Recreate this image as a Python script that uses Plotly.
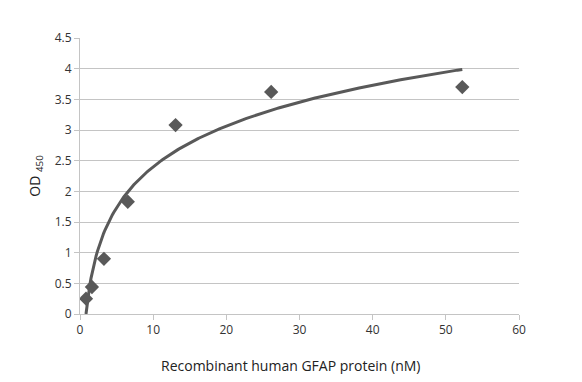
import numpy as np
import plotly.graph_objects as go

# Data
conc_nM = [0.82, 1.63, 3.27, 6.53, 13.06, 26.13, 52.25]
od450 = [0.25, 0.44, 0.90, 1.83, 3.08, 3.62, 3.70]

# Logarithmic trendline parameters: y = a*ln(x) + b
trend_a = 0.960
trend_b = 0.19

x_ticks = [0, 10, 20, 30, 40, 50, 60]
y_ticks = [0, 0.5, 1, 1.5, 2, 2.5, 3, 3.5, 4, 4.5]
y_tick_text = ["0", "0.5", "1", "1.5", "2", "2.5", "3", "3.5", "4", "4.5"]

trend_x = np.linspace(min(conc_nM), max(conc_nM), 300)
trend_y = trend_a * np.log(trend_x) + trend_b

font_family = "Open Sans, DejaVu Sans, sans-serif"
grid_col = "#c4c4c4"
mark_col = "#595959"

fig = go.Figure()
fig.add_trace(go.Scatter(x=trend_x, y=trend_y, mode="lines",
                         line=dict(color=mark_col, width=3), hoverinfo="skip",
                         showlegend=False))
fig.add_trace(go.Scatter(x=conc_nM, y=od450, mode="markers",
                         marker=dict(symbol="diamond", size=11, color=mark_col),
                         showlegend=False))

fig.update_layout(
    width=566, height=366,
    margin=dict(l=72, r=55, t=30, b=60),
    paper_bgcolor="white", plot_bgcolor="white",
    font=dict(family=font_family, size=12, color="#333333"),
    xaxis=dict(range=[0, 60], tickvals=x_ticks, showgrid=False, zeroline=False,
               showline=True, linecolor=grid_col, linewidth=1,
               ticks="outside", ticklen=5, tickcolor=grid_col),
    yaxis=dict(range=[0, 4.5], tickvals=y_ticks, ticktext=y_tick_text,
               showgrid=True, gridcolor=grid_col, gridwidth=1, zeroline=False,
               showline=True, linecolor=grid_col, linewidth=1,
               ticks="outside", ticklen=5, tickcolor=grid_col,
               title=dict(text="OD <sub>450</sub>", font=dict(size=14, color="#222222"),
                          standoff=10)),
    annotations=[dict(text="Recombinant human GFAP protein (nM)", xref="paper", yref="paper",
                      x=0.48, y=-0.185, xanchor="center", yanchor="middle", showarrow=False,
                      font=dict(size=14, color="#222222"))],
)

fig.write_html("out.html")
